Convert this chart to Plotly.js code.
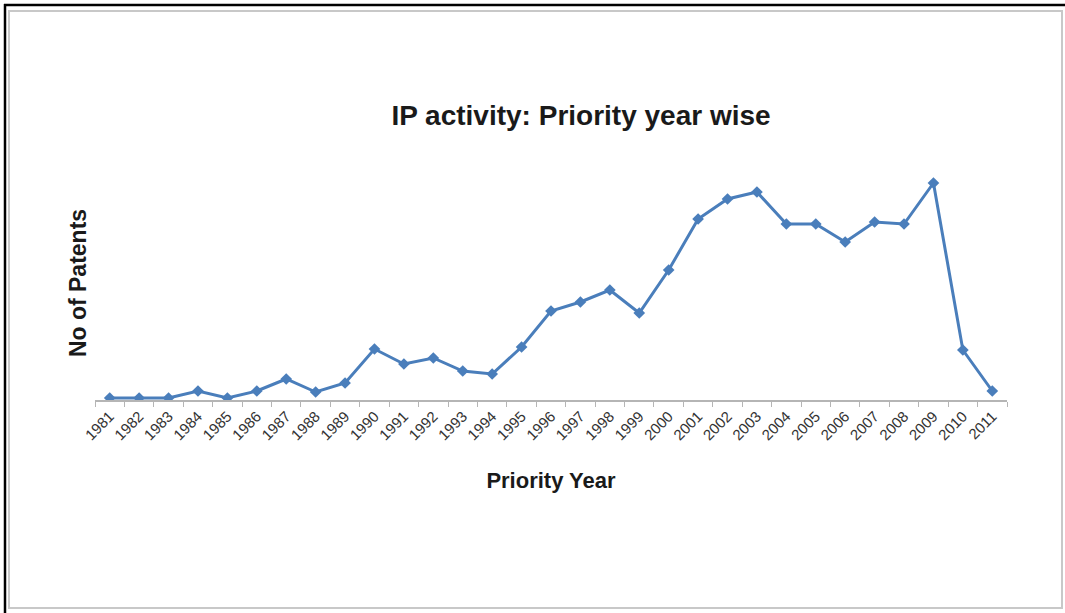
<!DOCTYPE html>
<html>
<head>
<meta charset="utf-8">
<script src="https://cdn.plot.ly/plotly-3.0.1.min.js"></script>
<style>
  html, body { margin: 0; padding: 0; background: #ffffff; }
  #chart { width: 1065px; height: 613px; }
</style>
</head>
<body>
<div id="chart"></div>
<script>
// Data (relative scale; the reference has no y-axis values)
const years = ["1981","1982","1983","1984","1985","1986","1987","1988","1989","1990",
               "1991","1992","1993","1994","1995","1996","1997","1998","1999","2000",
               "2001","2002","2003","2004","2005","2006","2007","2008","2009","2010","2011"];
const patents = [2, 2, 2, 9, 2, 9, 21, 8, 17, 51,
                 36, 42, 29, 26, 53, 89, 98, 110, 87, 130,
                 181, 201, 208, 176, 176, 158, 178, 176, 217, 50, 9];

const chartTitle = "IP activity: Priority year wise";
const xTitle = "Priority Year";
const yTitle = "No of Patents";

// layout geometry
const W = 1065, H = 613;
const M = {l: 95, r: 58, t: 166, b: 213};
const pw = W - M.l - M.r, ph = H - M.t - M.b;
const px = x => (x - M.l) / pw;
const py = y => (H - M.b - y) / ph;

const trace = {
  x: years,
  y: patents,
  type: "scatter",
  mode: "lines+markers",
  line: {color: "#4a7ebb", width: 3},
  marker: {symbol: "diamond", size: 9, color: "#4a7ebb"},
  hoverinfo: "x+y",
  showlegend: false
};

const layout = {
  width: W, height: H,
  margin: M,
  paper_bgcolor: "#ffffff",
  plot_bgcolor: "#ffffff",
  font: {family: "Liberation Sans, Arial, sans-serif", color: "#222"},
  title: {
    text: "<b>" + chartTitle + "</b>",
    font: {family: "Liberation Sans, Arial, sans-serif", size: 28, color: "#1a1a1a"},
    xref: "container", x: 581 / W, xanchor: "center",
    yref: "container", y: 1 - 115 / H, yanchor: "middle"
  },
  xaxis: {
    type: "category",
    range: [-0.5, years.length - 0.5],
    showgrid: false, zeroline: false,
    showline: true, linecolor: "#b5b5b5", linewidth: 1.5,
    ticks: "outside", tickson: "boundaries", ticklen: 5, tickcolor: "#b5b5b5", tickwidth: 1,
    tickangle: -45,
    tickfont: {family: "Liberation Sans, Arial, sans-serif", size: 15, color: "#333333"},
    title: {
      text: "<b>" + xTitle + "</b>",
      font: {family: "Liberation Sans, Arial, sans-serif", size: 22, color: "#1a1a1a"},
      standoff: 30
    },
    fixedrange: true
  },
  yaxis: {
    range: [0, ph],
    showgrid: false, zeroline: false, showline: false,
    ticks: "", showticklabels: false,
    title: {
      text: "<b>" + yTitle + "</b>",
      font: {family: "Liberation Sans, Arial, sans-serif", size: 23, color: "#1a1a1a"},
      standoff: 0
    },
    fixedrange: true
  },
  shapes: [
    {type: "line", xref: "paper", yref: "paper", x0: px(4), x1: px(1065), y0: py(5), y1: py(5),
     line: {color: "#000000", width: 2.5}},
    {type: "line", xref: "paper", yref: "paper", x0: px(5), x1: px(5), y0: py(4), y1: py(613),
     line: {color: "#000000", width: 2.5}},
    {type: "rect", xref: "paper", yref: "paper", x0: px(9), x1: px(1062), y0: py(11), y1: py(608),
     line: {color: "#c8c8c8", width: 2}}
  ]
};

Plotly.newPlot("chart", [trace], layout, {displayModeBar: false, staticPlot: false});
</script>
</body>
</html>
